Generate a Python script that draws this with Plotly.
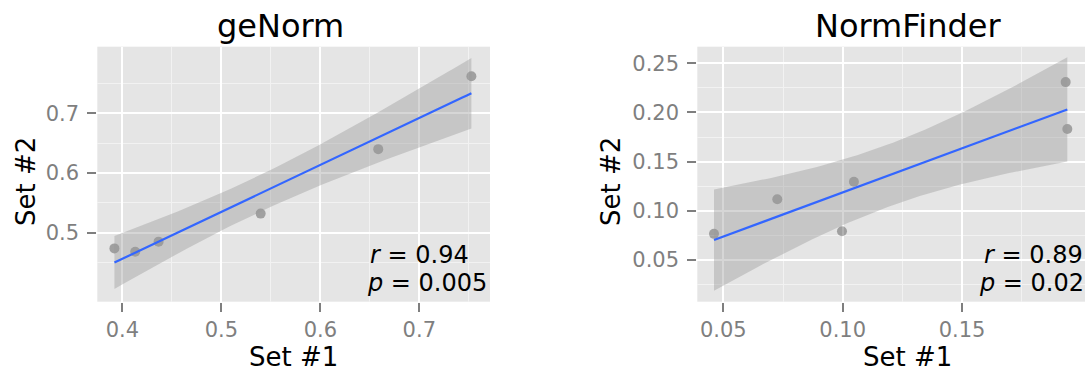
import numpy as np
import plotly.graph_objects as go

# ---------------- data ----------------
genorm_set1 = [0.392, 0.413, 0.4366, 0.5397, 0.6585, 0.7526]
genorm_set2 = [0.4737, 0.4682, 0.485, 0.532, 0.640, 0.762]

normfinder_set1 = [0.0461, 0.0726, 0.0997, 0.1047, 0.1934, 0.1941]
normfinder_set2 = [0.0766, 0.1118, 0.0793, 0.1295, 0.2309, 0.1832]

panel_titles = ["geNorm", "NormFinder"]
r_values = ["0.94", "0.89"]
p_values = ["0.005", "0.02"]

genorm_xticks = [0.4, 0.5, 0.6, 0.7]
genorm_yticks = [0.5, 0.6, 0.7]
normfinder_xticks = [0.05, 0.10, 0.15]
normfinder_yticks = [0.05, 0.10, 0.15, 0.20, 0.25]

# Student t quantile (0.975) by residual degrees of freedom
T975 = {4: 2.776445}

W, H = 1085, 374
FONT = "DejaVu Sans"


def px_x(p):
    return p / W


def px_y(p):
    return 1 - p / H


def smooth(x, y, n=80):
    x = np.asarray(x, float)
    y = np.asarray(y, float)
    b1, b0 = np.polyfit(x, y, 1)
    xs = np.linspace(x.min(), x.max(), n)
    yhat = b0 + b1 * xs
    resid = y - (b0 + b1 * x)
    df = len(x) - 2
    s = np.sqrt(np.sum(resid ** 2) / df)
    sxx = np.sum((x - x.mean()) ** 2)
    se = s * np.sqrt(1 / len(x) + (xs - x.mean()) ** 2 / sxx)
    t = T975[df]
    return xs, yhat, yhat - t * se, yhat + t * se


fig = go.Figure()

panels = [
    (genorm_set1, genorm_set2, "x", "y"),
    (normfinder_set1, normfinder_set2, "x2", "y2"),
]

for xv, yv, xa, ya in panels:
    fig.add_trace(go.Scatter(
        x=xv, y=yv, mode="markers", xaxis=xa, yaxis=ya,
        marker=dict(size=10, color="rgba(0,0,0,0.30)", line=dict(width=0)),
        showlegend=False, hoverinfo="skip"))
    xs, yhat, lo, hi = smooth(xv, yv)
    fig.add_trace(go.Scatter(
        x=np.concatenate([xs, xs[::-1]]), y=np.concatenate([hi, lo[::-1]]),
        mode="lines", fill="toself", fillcolor="rgba(153,153,153,0.4)",
        line=dict(width=0), xaxis=xa, yaxis=ya, showlegend=False, hoverinfo="skip"))
    fig.add_trace(go.Scatter(
        x=xs, y=yhat, mode="lines", line=dict(color="#3366FF", width=2.2),
        xaxis=xa, yaxis=ya, showlegend=False, hoverinfo="skip"))


def axis(domain, rng, tickvals, minorvals, fmt, anchor, standoff):
    return dict(
        domain=domain, range=rng, anchor=anchor,
        tickmode="array", tickvals=tickvals, tickformat=fmt,
        ticks="outside", ticklen=9, tickwidth=2, tickcolor="#7F7F7F",
        tickfont=dict(family=FONT, size=21, color="#7F7F7F"),
        ticklabelstandoff=standoff,
        showgrid=True, gridcolor="#FFFFFF", gridwidth=1.8,
        minor=dict(tickmode="array", tickvals=minorvals, showgrid=True,
                   gridcolor="#F2F2F2", gridwidth=0.8, ticks=""),
        showline=False, zeroline=False, fixedrange=True,
    )


ydom = [px_y(301.7), px_y(46.7)]
layout = dict(
    width=W, height=H, margin=dict(l=0, r=0, t=0, b=0),
    paper_bgcolor="white", plot_bgcolor="#E5E5E5",
    xaxis=axis([px_x(97.3), px_x(490)], [0.3747, 0.7714], genorm_xticks,
               [0.45, 0.55, 0.65, 0.75], ".1f", "y", 0),
    yaxis=axis(ydom, [0.3844, 0.8116], genorm_yticks,
               [0.45, 0.55, 0.65, 0.75], ".1f", "x", 4),
    xaxis2=axis([px_x(697.3), 1.0], [0.0391, 0.2015], normfinder_xticks,
                [0.075, 0.125, 0.175], ".2f", "y2", 0),
    yaxis2=axis(ydom, [0.0076, 0.2669], normfinder_yticks,
                [0.025, 0.075, 0.125, 0.175, 0.225], ".2f", "x2", 4),
)
fig.update_layout(**layout)

ann = []
title_x = [280, 908]
xlab_x = [293, 907]
ylab_x = [26, 611]
stat_r_x = [368, 982]
stat_p_x = [365, 976.5]
for i in range(2):
    ann.append(dict(text=panel_titles[i], x=px_x(title_x[i]), y=px_y(26),
                    xref="paper", yref="paper", xanchor="center", yanchor="middle",
                    showarrow=False, font=dict(family=FONT, size=32, color="black")))
    ann.append(dict(text="Set #1", x=px_x(xlab_x[i]), y=px_y(357),
                    xref="paper", yref="paper", xanchor="center", yanchor="middle",
                    showarrow=False, font=dict(family=FONT, size=26, color="black")))
    ann.append(dict(text="Set #2", x=px_x(ylab_x[i]), y=px_y(182), textangle=-90,
                    xref="paper", yref="paper", xanchor="center", yanchor="middle",
                    showarrow=False, font=dict(family=FONT, size=26, color="black")))
    ann.append(dict(text="<i>r</i> = " + r_values[i], x=px_x(stat_r_x[i]), y=px_y(255),
                    xref="paper", yref="paper", xanchor="left", yanchor="middle",
                    showarrow=False, font=dict(family=FONT, size=24, color="black")))
    ann.append(dict(text="<i>p</i> = " + p_values[i], x=px_x(stat_p_x[i]), y=px_y(283),
                    xref="paper", yref="paper", xanchor="left", yanchor="middle",
                    showarrow=False, font=dict(family=FONT, size=24, color="black")))
fig.update_layout(annotations=ann)

fig.write_html("out.html", config={"displayModeBar": False},
               post_script="document.body.style.margin='0';")
